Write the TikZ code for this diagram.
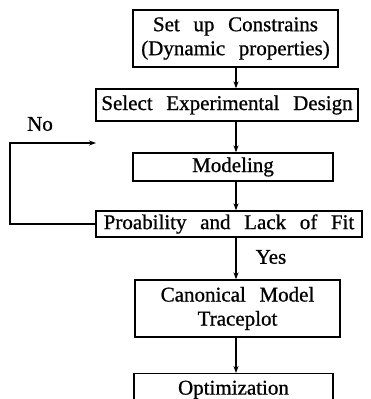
\documentclass[tikz,border=0pt]{standalone}
\usepackage{fontspec}
\setmainfont{Liberation Serif}[WordSpace={2.6,1,1},FakeBold=0.8]
\usetikzlibrary{arrows.meta}
\tikzset{
  box/.style={draw, line width=1.3pt, inner sep=0pt, align=center,
    font=\fontsize{21}{24}\selectfont},
  lbl/.style={font=\fontsize{21}{24}\selectfont, inner sep=0pt},
  arr/.style={line width=1.1pt, -{Stealth[length=7pt,width=5pt]}},
  ln/.style={line width=1pt}
}
\begin{document}
\begin{tikzpicture}[x=1pt,y=-1pt]
\useasboundingbox (0,0) rectangle (370,399);
\clip (0,0) rectangle (370,399);
\node[box, minimum width=205pt, minimum height=57pt] (b1) at (235.5,38.5) {Set up Constrains\\(Dynamic properties)};
\node[box, minimum width=262pt, minimum height=32pt] (b2) at (227,105) {Select Experimental Design};
\node[box, minimum width=200pt, minimum height=28pt] (b3) at (233,167) {Modeling};
\node[box, minimum width=266pt, minimum height=26pt] (b4) at (229,224) {Proability and Lack of Fit};
\node[box, minimum width=205pt, minimum height=57pt] (b5) at (237.5,308.5) {Canonical Model\\Traceplot};
\node[box, minimum width=199pt, minimum height=50pt, anchor=north] (b6) at (233.5,373) {\raisebox{22pt}{Optimization}};
\node[lbl] (no) at (40,124) {No};
\node[lbl] (yes) at (271,257) {Yes};
\coordinate (ax) at (236,0);
\coordinate (cl) at (10,143);
\coordinate (ct) at (96,143);
\draw[arr] (b1.south -| ax) -- (b2.north -| ax);
\draw[arr] (b2.south -| ax) -- (b3.north -| ax);
\draw[arr] (b3.south -| ax) -- (b4.north -| ax);
\draw[arr] (b4.south -| ax) -- (b5.north -| ax);
\draw[arr] (b5.south -| ax) -- (b6.north -| ax);
\draw[arr] (b4.west) -- (b4.west -| cl) -- (cl) -- (ct);
\end{tikzpicture}
\end{document}
